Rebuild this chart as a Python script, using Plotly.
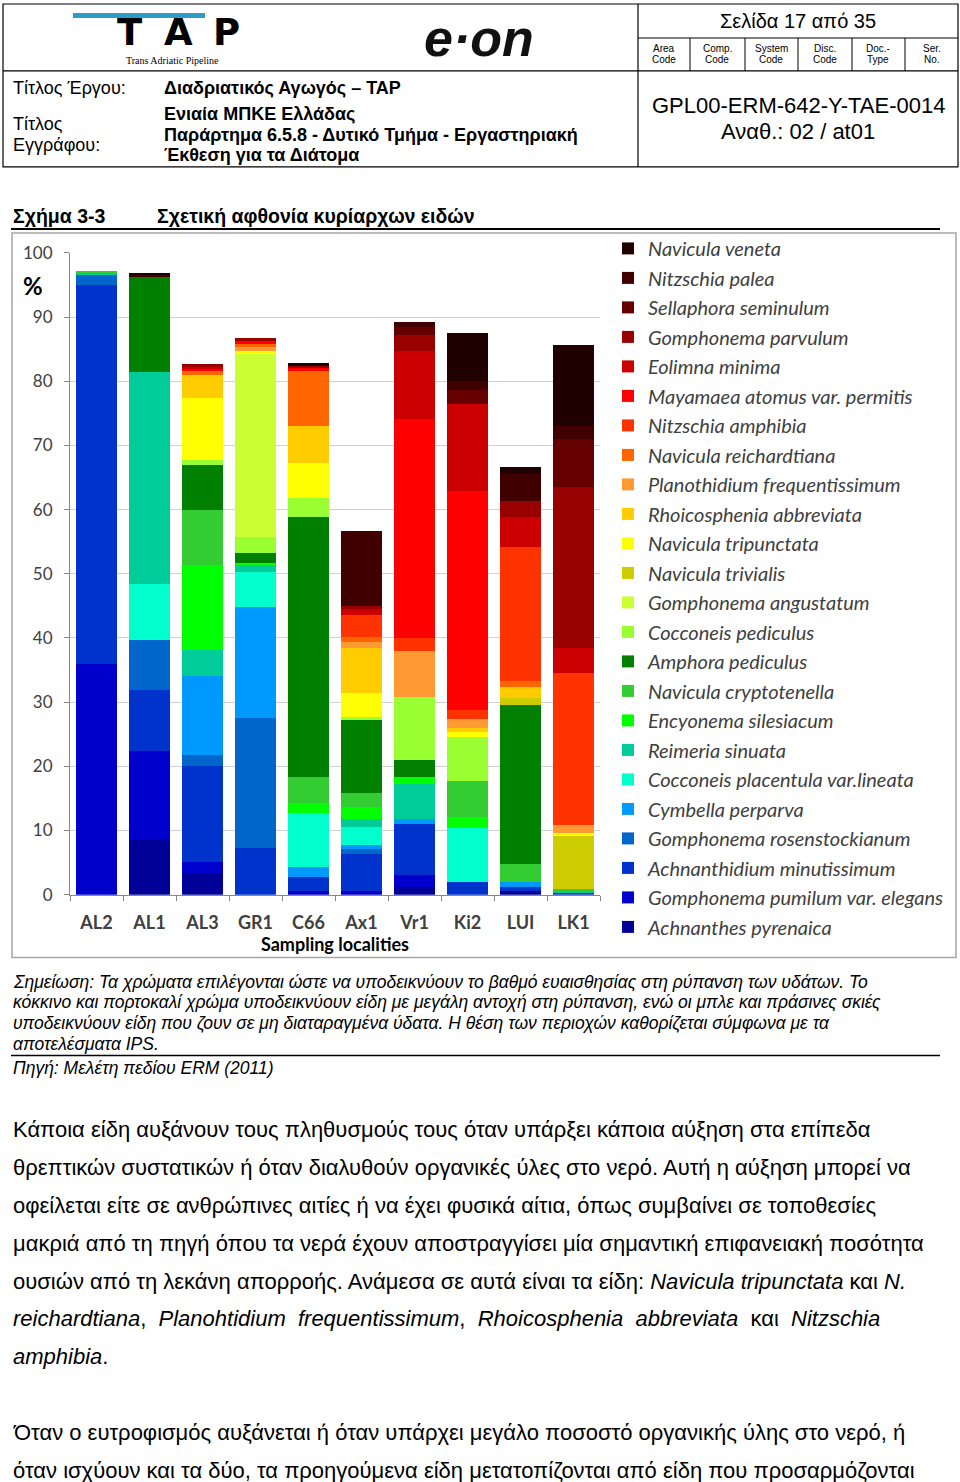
import plotly.graph_objects as go

W = 960
HF = 1510          # figure height (the photographed page shows its top ~1500 px)
V_OFF = 0.0        # vertical offset of the page photograph (after shifting the div)
V_SCALE = 0.9865   # measured vertical scale of the page photograph

# ---------------- data ----------------
sites = ["AL2", "AL1", "AL3", "GR1", "C66", "Ax1", "Vr1", "Ki2", "LUI", "LK1"]
y_ticks = [0, 10, 20, 30, 40, 50, 60, 70, 80, 90, 100]

# relative abundance (%) per site, stacked from bottom to top
achnanthes_pyrenaica = [0, 8.6, 3.3, 0, 0, 0, 1.25, 0, 0.5, 0]
gomphonema_pumilum_elegans = [36.0, 13.8, 1.75, 0, 0.5, 0.5, 1.85, 0, 0, 0]
achnanthidium_minutissimum = [59.0, 9.55, 14.95, 7.3, 2.3, 5.8, 7.9, 1.9, 0.75, 0.3]
gomphonema_rosenstockianum = [1.6, 7.7, 1.7, 20.2, 0, 0.8, 0, 0, 0, 0]
cymbella_perparva = [0, 0, 12.35, 17.3, 1.55, 0.7, 0.8, 0, 0.65, 0]
cocconeis_placentula_lineata = [0, 8.8, 0, 5.4, 8.3, 2.8, 0, 8.5, 0, 0]
reimeria_sinuata = [0.3, 33.05, 4.1, 1.1, 0, 1.2, 5.4, 0, 0, 0.3]
encyonema_silesiacum = [0, 0, 13.2, 0.4, 1.65, 1.85, 1.2, 1.65, 0, 0]
navicula_cryptotenella = [0.3, 0, 8.6, 0, 4.1, 2.15, 0, 5.6, 2.8, 0.3]
amphora_pediculus = [0, 14.9, 7.0, 1.5, 40.5, 11.4, 2.6, 0, 24.9, 0]
cocconeis_pediculus = [0, 0, 0.8, 2.6, 2.9, 0.5, 9.8, 6.85, 0, 0]
gomphonema_angustatum = [0, 0, 0, 28.4, 0, 0, 0, 0, 0, 0]
navicula_trivialis = [0, 0, 0, 0, 0, 0, 0, 0, 1.0, 8.3]
navicula_tripunctata = [0, 0, 9.7, 0.45, 5.4, 3.7, 0, 0.9, 0, 0.35]
rhoicosphenia_abbreviata = [0, 0, 3.5, 0, 5.85, 7.1, 0, 0.55, 1.7, 0]
planothidium_frequentissimum = [0, 0, 0, 0.8, 0, 0.8, 7.2, 1.4, 0, 1.3]
navicula_reichardtiana = [0, 0, 0.8, 0.3, 8.55, 0.9, 0, 0, 1.0, 0]
nitzschia_amphibia = [0, 0, 0, 0, 0, 3.3, 2.0, 1.35, 20.9, 23.75]
mayamaea_atomus_permitis = [0, 0, 0.25, 0.5, 0.45, 0, 34.1, 34.2, 0, 0]
eolimna_minima = [0, 0, 0.25, 0, 0, 1.0, 10.6, 13.6, 4.7, 3.8]
gomphonema_parvulum = [0, 0, 0.5, 0.45, 0.35, 0.5, 2.5, 0, 2.5, 25.15]
sellaphora_seminulum = [0, 0, 0, 0, 0, 0, 1.3, 2.15, 0, 7.45]
nitzschia_palea = [0, 0.2, 0, 0, 0, 11.7, 0.8, 1.4, 4.1, 2.05]
navicula_veneta = [0, 0.3, 0, 0, 0.5, 0, 0, 7.45, 1.2, 12.55]

species_names = [
    "Achnanthes pyrenaica", "Gomphonema pumilum var. elegans", "Achnanthidium minutissimum",
    "Gomphonema rosenstockianum", "Cymbella perparva", "Cocconeis placentula var.lineata",
    "Reimeria sinuata", "Encyonema silesiacum", "Navicula cryptotenella", "Amphora pediculus",
    "Cocconeis pediculus", "Gomphonema angustatum", "Navicula trivialis", "Navicula tripunctata",
    "Rhoicosphenia abbreviata", "Planothidium frequentissimum", "Navicula reichardtiana",
    "Nitzschia amphibia", "Mayamaea atomus var. permitis", "Eolimna minima",
    "Gomphonema parvulum", "Sellaphora seminulum", "Nitzschia palea", "Navicula veneta",
]
species_values = [
    achnanthes_pyrenaica, gomphonema_pumilum_elegans, achnanthidium_minutissimum,
    gomphonema_rosenstockianum, cymbella_perparva, cocconeis_placentula_lineata,
    reimeria_sinuata, encyonema_silesiacum, navicula_cryptotenella, amphora_pediculus,
    cocconeis_pediculus, gomphonema_angustatum, navicula_trivialis, navicula_tripunctata,
    rhoicosphenia_abbreviata, planothidium_frequentissimum, navicula_reichardtiana,
    nitzschia_amphibia, mayamaea_atomus_permitis, eolimna_minima,
    gomphonema_parvulum, sellaphora_seminulum, nitzschia_palea, navicula_veneta,
]
species_colors = [
    "#000099", "#0000CC", "#0033CC", "#0066CC", "#0099FF", "#00FFCC",
    "#00CC99", "#00FF00", "#33CC33", "#008000", "#99FF33", "#CCFF33",
    "#CCCC00", "#FFFF00", "#FFCC00", "#FF9933", "#FF6600", "#FF3300",
    "#FF0000", "#CC0000", "#990000", "#660000", "#400000", "#200000",
]

# ---------------- helpers ----------------
def px(x):
    return x / W


def py(y):
    # y is a position measured on the reference page photograph
    f = (y - V_OFF) / V_SCALE
    return 1 - max(f, 0.5) / HF


annotations = []
shapes = []

ARIAL = "Liberation Sans, Arial, sans-serif"
NARROW = "Liberation Sans Narrow, Liberation Sans, Arial, sans-serif"
CAL = "Lato, Open Sans, sans-serif"


def text(x, y, s, size, family=ARIAL, color="#000000", xanchor="left",
         weight="normal", style="normal", yanchor="middle"):
    annotations.append(dict(
        x=px(x), y=py(y), xref="paper", yref="paper", text=s, showarrow=False,
        xanchor=xanchor, yanchor=yanchor, align=xanchor if xanchor != "center" else "center",
        font=dict(size=size, family=family, color=color, weight=weight, style=style),
    ))


def line(x0, y0, x1, y1, color="#000000", width=1):
    shapes.append(dict(type="line", xref="paper", yref="paper",
                       x0=px(x0), y0=py(y0), x1=px(x1), y1=py(y1),
                       line=dict(color=color, width=width)))


def rect(x0, y0, x1, y1, color="#000000", width=1, fill=None):
    d = dict(type="rect", xref="paper", yref="paper",
             x0=px(x0), y0=py(y0), x1=px(x1), y1=py(y1),
             line=dict(color=color, width=width))
    if fill:
        d["fillcolor"] = fill
    shapes.append(d)


# ---------------- figure ----------------
fig = go.Figure()
n = len(species_names)
for i, (name, vals, col) in enumerate(zip(species_names, species_values, species_colors)):
    fig.add_trace(go.Bar(
        x=sites, y=vals, name=name, legendgroup=name, legendrank=n - i,
        marker=dict(color=col, line=dict(width=0)),
    ))

# ---------- header table ----------
rect(3, 3, 958, 166, width=1.2)
line(638, 3, 638, 166, width=1.2)
line(3, 70, 958, 70, width=1.2)
line(638, 37, 958, 37, width=1.2)
for xc in [690, 745, 798, 852, 905]:
    line(xc, 37, xc, 70, width=1)
small_cols = [(664, "Area", "Code"), (717, "Comp.", "Code"), (771, "System", "Code"),
              (825, "Disc.", "Code"), (878, "Doc.-", "Type"), (932, "Ser.", "No.")]
for xc, a, b in small_cols:
    text(xc, 48, a, 10, NARROW, xanchor="center")
    text(xc, 59, b, 10, NARROW, xanchor="center")
text(798, 20, "Σελίδα 17 από 35", 20, NARROW, xanchor="center")

# logos
rect(73, 12, 205, 17, color="#2E9BC9", width=0, fill="#2E9BC9")
for lx, letter in [(130, "T"), (178, "A"), (226, "P")]:
    text(lx, 55, letter, 37, "DejaVu Sans, sans-serif", xanchor="center",
         weight="bold", yanchor="bottom")
text(172, 60, "Trans Adriatic Pipeline", 10, "Liberation Serif, serif", xanchor="center")
text(479, 37, "e·on", 52, ARIAL, color="#111111", xanchor="center", weight="bold", style="italic")

# title block
text(11, 87, "Τίτλος Έργου:", 18, NARROW)
text(162, 87, "Διαδριατικός Αγωγός – TAP", 18, NARROW, weight="bold")
text(11, 123, "Τίτλος", 18, NARROW)
text(11, 144, "Εγγράφου:", 18, NARROW)
text(162, 113, "Ενιαία ΜΠΚΕ Ελλάδας", 18, NARROW, weight="bold")
text(162, 134, "Παράρτημα 6.5.8 - Δυτικό Τμήμα - Εργαστηριακή", 18, NARROW, weight="bold")
text(162, 154, "Έκθεση για τα Διάτομα", 18, NARROW, weight="bold")
text(798, 105, "GPL00-ERM-642-Y-TAE-0014", 22, NARROW, xanchor="center")
text(798, 131, "Αναθ.: 02 / at01", 22, NARROW, xanchor="center")

# figure caption
text(11, 215, "Σχήμα 3-3", 19.5, ARIAL, weight="bold")
text(155, 215, "Σχετική αφθονία κυρίαρχων ειδών", 19.5, ARIAL, weight="bold")
line(11, 228, 940, 228, width=2)

# chart frame
rect(12, 232, 956, 957, color="#A6A6A6", width=1.5)
text(33, 285, "%", 24, CAL, color="#000000", xanchor="center", weight="bold")

# footnote
fn_lines = [
    (981, "Σημείωση: Τα χρώματα επιλέγονται ώστε να υποδεικνύουν το βαθμό ευαισθησίας στη ρύπανση των υδάτων. Το"),
    (1001, "κόκκινο και πορτοκαλί χρώμα υποδεικνύουν είδη με μεγάλη αντοχή στη ρύπανση, ενώ οι μπλε και πράσινες σκιές"),
    (1022, "υποδεικνύουν είδη που ζουν σε μη διαταραγμένα ύδατα. Η θέση των περιοχών καθορίζεται σύμφωνα με τα"),
    (1043, "αποτελέσματα IPS."),
]
for yy, s in fn_lines:
    text(11, yy, s, 17.5, ARIAL, style="italic")
line(11, 1055, 940, 1055, width=1.5)
text(11, 1067, "Πηγή: Μελέτη πεδίου ERM (2011)", 17.5, ARIAL, style="italic")

# body text
body = [
    (1129, "Κάποια είδη αυξάνουν τους πληθυσμούς τους όταν υπάρξει κάποια αύξηση στα επίπεδα"),
    (1167, "θρεπτικών συστατικών ή όταν διαλυθούν οργανικές ύλες στο νερό. Αυτή η αύξηση μπορεί να"),
    (1205, "οφείλεται είτε σε ανθρώπινες αιτίες ή να έχει φυσικά αίτια, όπως συμβαίνει σε τοποθεσίες"),
    (1243, "μακριά από τη πηγή όπου τα νερά έχουν αποστραγγίσει μία σημαντική επιφανειακή ποσότητα"),
    (1281, "ουσιών από τη λεκάνη απορροής. Ανάμεσα σε αυτά είναι τα είδη: <i>Navicula tripunctata</i> και <i>N.</i>"),
    (1318, "<i>reichardtiana</i>,  <i>Planohtidium  frequentissimum</i>,  <i>Rhoicosphenia  abbreviata</i>  και  <i>Nitzschia</i>"),
    (1356, "<i>amphibia</i>."),
    (1432, "Όταν ο ευτροφισμός αυξάνεται ή όταν υπάρχει μεγάλο ποσοστό οργανικής ύλης στο νερό, ή"),
    (1470, "όταν ισχύουν και τα δύο, τα προηγούμενα είδη μετατοπίζονται από είδη που προσαρμόζονται"),
]
for yy, s in body:
    text(11, yy, s, 22, ARIAL)

fig.update_layout(
    width=W, height=HF,
    margin=dict(l=0, r=0, t=0, b=0),
    paper_bgcolor="white", plot_bgcolor="white",
    barmode="stack", bargap=0.226,
    showlegend=True,
    legend=dict(
        x=px(608), y=py(228), xanchor="left", yanchor="top",
        traceorder="grouped", tracegroupgap=0.5,
        font=dict(size=20, family=CAL, color="#404040", style="italic"),
        itemwidth=30, bgcolor="rgba(0,0,0,0)",
        itemclick=False, itemdoubleclick=False,
    ),
    xaxis=dict(
        domain=[px(70), px(600)], type="category",
        showline=True, linecolor="#868686", linewidth=1,
        ticks="outside", tickson="boundaries", ticklen=5, tickcolor="#868686",
        tickfont=dict(size=18, family=CAL, color="#404040", weight="bold"),
        ticklabelstandoff=12,
        title=dict(text="Sampling localities", standoff=2,
                   font=dict(size=18, family=CAL, color="#000000", weight="bold")),
        showgrid=False, fixedrange=True,
    ),
    yaxis=dict(
        domain=[py(894), py(252)], range=[0, 100],
        tickvals=y_ticks, ticks="outside", ticklen=5, tickcolor="#868686",
        showline=True, linecolor="#868686", linewidth=1,
        gridcolor="#D0D0D0", gridwidth=1, zeroline=False,
        tickfont=dict(size=17, family=CAL, color="#404040"),
        ticklabelstandoff=8, fixedrange=True,
    ),
    annotations=annotations,
    shapes=shapes,
)

post = (
    "document.documentElement.style.margin='0';"
    "document.body.style.margin='0';document.body.style.padding='0';"
    "document.body.style.overflow='hidden';"
    "var g=document.getElementById('{plot_id}');"
    "g.style.position='absolute';g.style.left='0px';g.style.top='-10.3px';"
)
fig.write_html("out.html", post_script=post, config={"displayModeBar": False})
